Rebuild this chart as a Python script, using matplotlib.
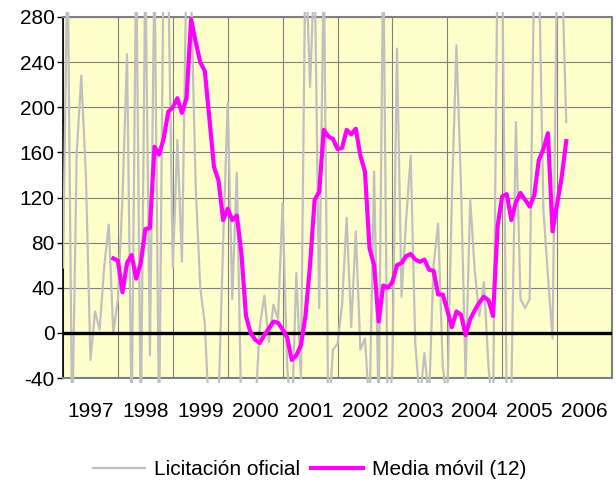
import matplotlib
matplotlib.use("Agg")
import matplotlib.pyplot as plt
from matplotlib.transforms import Bbox, TransformedBbox
import numpy as np

plt.rcParams['font.family'] = ['Liberation Sans', 'DejaVu Sans']

start_year = 1997
years = [1997, 1998, 1999, 2000, 2001, 2002, 2003, 2004, 2005, 2006]
y_ticks = [-40, 0, 40, 80, 120, 160, 200, 240, 280]

licitacion = [58, 340, -90, 160, 228, 140, -24, 19, 3, 58,
              96, 0, 30, 120, 247, -80, 340, -90, 330, -20,
              330, -90, 340, 320, 58, 171, 63, 330, 300, 130,
              40, 8, -80, -70, -60, 80, 204, 30, 142, -80,
              -90, -80, -70, 5, 33, -8, 25, 12, 115, -30,
              -80, 53, -40, 340, 218, 330, 22, 330, -80, -15,
              -10, 25, 102, 5, 90, -15, -5, -70, 143, -70,
              340, -90, -30, 252, 32, 100, 157, -10, -60, -18,
              -60, 60, 97, -30, -60, 120, 255, 130, -40, 119,
              55, 15, 45, -30, -70, 340, 330, -70, -50, 187,
              30, 22, 30, 330, 330, 110, 50, -5, 330, 330,
              187]

media_movil = [66, 64, 36, 62, 69, 48, 62, 92, 93, 165,
               158, 172, 196, 200, 208, 195, 208, 278, 258, 240,
               232, 190, 147, 135, 100, 110, 100, 104, 70, 15,
               0, -6, -9, -2, 4, 10, 9, 3, -4, -24,
               -20, -11, 15, 60, 118, 125, 180, 174, 172, 163,
               164, 180, 176, 181, 157, 143, 75, 60, 10, 42,
               40, 45, 60, 62, 68, 70, 65, 63, 65, 56,
               55, 34, 34, 20, 5, 19, 16, -2, 12, 20,
               27, 32, 29, 15, 95, 121, 123, 100, 116, 124,
               118, 112, 122, 153, 163, 177, 90, 114, 138, 170]

ma_offset = 11

x_lic = start_year + np.arange(len(licitacion)) / 12.0
x_ma = start_year + (ma_offset + np.arange(len(media_movil))) / 12.0

FS = 15

fig = plt.figure(figsize=(6.16, 4.83), dpi=100)
ax = fig.add_axes([63/616, 1 - 378/483, (612 - 63)/616, (378 - 17)/483])
ax.set_facecolor('#FFFFCC')

ax.set_xlim(1997, 2007)
ax.set_ylim(-40, 280)

ax.set_xticks(np.arange(1997, 2008))
ax.set_xticks(np.array(years) + 0.5, minor=True)
ax.set_xticklabels([])
ax.set_xticklabels([str(y) for y in years], minor=True)
ax.set_yticks(y_ticks)
ax.set_yticklabels([str(v) for v in y_ticks])
ax.grid(True, which='major', color='#808080', linewidth=0.8, zorder=1)
ax.set_axisbelow(True)

ax.tick_params(axis='x', which='both', length=0, labelsize=FS, pad=17)
ax.tick_params(axis='y', which='major', length=4.5, width=1, direction='out',
               labelsize=FS, pad=1.5, colors='black')

for side in ['top', 'right', 'bottom']:
    ax.spines[side].set_color('#808080')
    ax.spines[side].set_linewidth(1.5)
ax.spines['left'].set_color('black')
ax.spines['left'].set_linewidth(1.2)

l1, = ax.plot(x_lic, licitacion, color='#C0C0C0', linewidth=1.6, zorder=3,
              label='Licitación oficial')
l1.set_clip_box(TransformedBbox(Bbox([[0, -0.014], [1, 1.014]]), ax.transAxes))

ax.axhline(0, color='black', linewidth=2.4, zorder=4)

l2, = ax.plot(x_ma, media_movil, color='#FF00FF', linewidth=3.0, zorder=5,
              solid_joinstyle='round', label='Media móvil (12)')

fig.legend(handles=[l1, l2], loc='center', bbox_to_anchor=(0.503, 0.027),
           ncol=2, frameon=False, fontsize=FS, handlelength=2.5,
           handletextpad=0.43, columnspacing=0.5)

fig.savefig('out.png', dpi=100)
